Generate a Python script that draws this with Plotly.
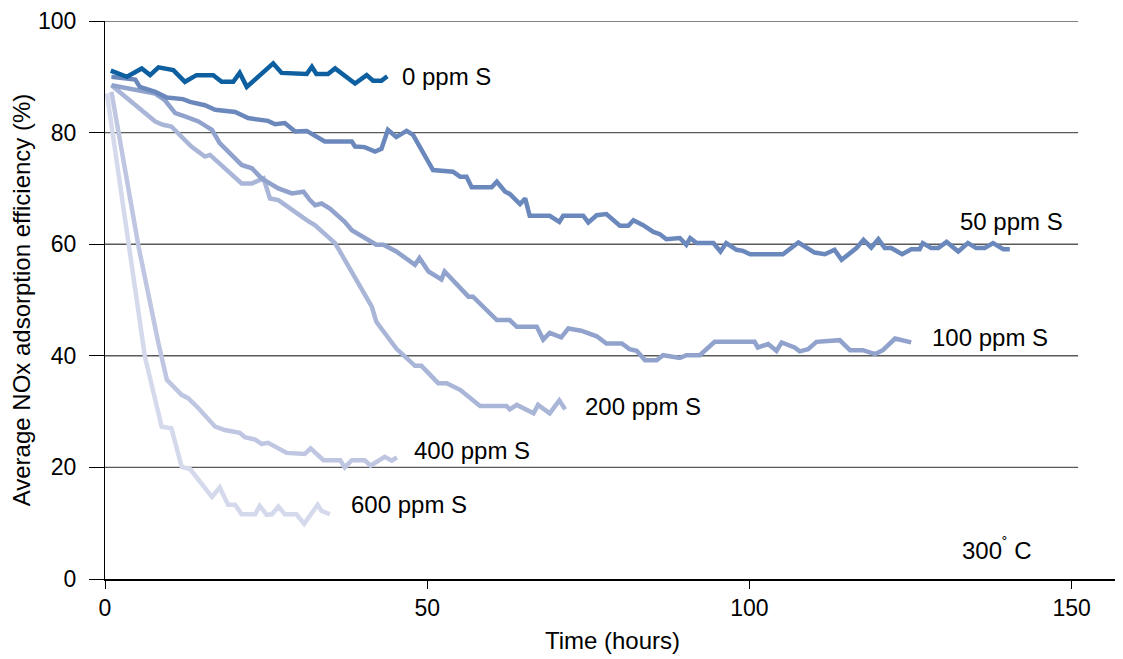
import plotly.graph_objects as go

# ---- data (hours, %) ----
t_0 = [0.9, 3.4, 5.7, 7.0, 8.3, 10.6, 12.4, 14.2, 16.8, 18.1, 19.9, 20.9, 22.0, 26.1, 27.4, 31.3, 32.1, 32.8, 34.6, 35.7, 38.8, 40.6, 41.6, 42.9, 43.8]
e_0 = [91.1, 90.0, 91.5, 90.3, 91.7, 91.2, 89.1, 90.3, 90.3, 89.1, 89.1, 90.7, 88.2, 92.4, 90.7, 90.5, 91.8, 90.5, 90.5, 91.5, 88.8, 90.3, 89.3, 89.3, 90.1]

t_50 = [1.0, 4.7, 5.4, 7.8, 9.6, 12.1, 13.2, 15.5, 17.1, 20.2, 22.2, 25.3, 26.4, 27.9, 29.5, 31.3, 34.1, 38.3, 38.8, 40.3, 41.9, 42.9, 43.9, 45.2, 46.8, 47.8,
        50.9, 54.0, 55.1, 56.1, 56.9, 60.0, 60.8, 62.1, 62.8, 64.4, 65.2, 65.9, 69.0, 70.5, 71.1, 74.2, 75.0, 76.3, 77.8, 79.9, 81.2, 82.0, 83.5, 85.1,
        86.1, 87.1, 89.2, 90.2, 90.8, 91.8, 94.4, 95.5, 96.4, 98.0, 99.0, 100.1, 105.2, 107.6, 110.1, 111.7, 113.2, 114.3, 116.6, 117.7, 118.9, 120.0,
        121.0, 122.0, 123.7, 125.1, 126.4, 126.9, 128.2, 129.3, 130.6, 132.4, 133.9, 135.2, 136.5, 137.8, 139.4, 140.4]
e_50 = [90.0, 89.5, 88.2, 87.3, 86.3, 86.0, 85.5, 84.9, 84.1, 83.7, 82.6, 82.1, 81.5, 81.7, 80.2, 80.3, 78.4, 78.4, 77.5, 77.4, 76.6, 77.1, 80.5, 79.2, 80.3, 79.6,
        73.3, 73.0, 72.1, 72.1, 70.2, 70.2, 71.2, 69.4, 69.0, 67.2, 68.2, 65.1, 65.1, 64.0, 65.1, 65.1, 63.9, 65.2, 65.4, 63.3, 63.3, 64.3, 63.4, 62.2,
        61.8, 60.9, 61.1, 59.9, 61.1, 60.2, 60.2, 58.7, 60.2, 59.0, 58.8, 58.2, 58.2, 60.3, 58.5, 58.2, 59.0, 57.2, 59.3, 60.8, 59.4, 60.9,
        59.3, 59.3, 58.2, 59.1, 59.1, 60.2, 59.3, 59.3, 60.4, 58.7, 60.2, 59.3, 59.3, 60.2, 59.1, 59.1]

t_100 = [1.0, 7.8, 9.3, 10.9, 12.4, 14.5, 16.6, 17.8, 21.2, 22.8, 24.3, 26.9, 29.0, 30.8, 31.8, 32.6, 33.6, 34.9, 37.2, 38.3, 42.1, 43.2, 45.2, 48.1,
         48.8, 50.2, 52.2, 52.7, 56.4, 57.1, 60.8, 62.8, 63.9, 67.0, 68.0, 69.0, 70.8, 71.9, 73.9, 76.3, 77.8, 80.2, 81.4, 82.5, 83.8, 85.6, 86.6,
         89.2, 90.2, 92.3, 94.6, 100.8, 101.3, 102.9, 104.2, 105.0, 107.0, 107.8, 109.1, 110.4, 114.0, 115.6, 117.6, 119.5, 120.7, 122.6, 125.1]
e_100 = [88.5, 87.0, 85.8, 83.5, 82.9, 82.0, 80.5, 78.1, 74.2, 73.6, 71.8, 70.0, 69.1, 69.4, 67.9, 67.0, 67.3, 66.4, 64.0, 62.5, 59.9, 59.9, 58.7, 56.3,
         57.5, 55.1, 53.7, 55.1, 50.6, 50.6, 46.4, 46.4, 45.2, 45.2, 42.9, 44.1, 43.3, 44.9, 44.5, 43.5, 42.2, 42.2, 41.2, 40.9, 39.2, 39.2, 40.1,
         39.6, 40.1, 40.1, 42.5, 42.5, 41.5, 42.1, 40.9, 42.4, 41.5, 40.8, 41.2, 42.5, 42.8, 41.0, 41.0, 40.3, 41.0, 43.1, 42.4]

t_200 = [1.0, 7.8, 9.0, 10.3, 13.4, 15.5, 16.3, 21.2, 22.8, 24.6, 25.6, 26.9, 31.3, 32.6, 35.7, 37.2, 41.4, 42.1, 45.2, 48.1, 49.1, 51.7, 53.0,
         55.1, 58.2, 62.3, 62.8, 63.9, 66.5, 67.2, 69.0, 70.5, 71.4]
e_200 = [88.5, 82.0, 81.4, 81.1, 77.5, 75.7, 76.0, 70.9, 70.9, 71.8, 68.2, 67.9, 64.3, 63.4, 60.2, 57.2, 48.8, 46.1, 41.3, 38.2, 38.2, 35.1, 35.1,
         33.9, 31.0, 31.0, 30.4, 31.2, 29.7, 31.2, 29.7, 32.0, 30.4]

t_400 = [1.0, 5.2, 8.3, 9.6, 11.9, 12.9, 14.5, 17.1, 18.6, 20.9, 21.7, 23.3, 24.3, 25.3, 28.2, 31.0, 31.9, 33.9, 36.5, 37.2, 38.3, 40.3, 41.2,
         43.4, 44.5, 45.3]
e_400 = [87.3, 59.6, 42.2, 35.7, 33.0, 32.4, 30.6, 27.3, 26.7, 26.2, 25.4, 25.0, 24.2, 24.4, 22.6, 22.4, 23.4, 21.3, 21.3, 20.0, 21.3, 21.3, 20.3,
         21.9, 21.2, 21.8]

t_600 = [0.3, 3.6, 6.2, 8.8, 10.3, 11.9, 13.2, 16.6, 17.8, 19.1, 20.2, 21.2, 23.3, 24.0, 25.1, 25.9, 26.9, 27.9, 29.7, 30.9, 33.0, 33.6, 34.9]
e_600 = [87.0, 60.2, 39.8, 27.3, 27.0, 20.1, 19.7, 14.7, 16.4, 13.3, 13.3, 11.6, 11.6, 13.1, 11.5, 11.6, 13.0, 11.6, 11.6, 9.9, 13.3, 12.2, 11.6]

series_names = ["0 ppm S", "50 ppm S", "100 ppm S", "200 ppm S", "400 ppm S", "600 ppm S"]
series_t = [t_0, t_50, t_100, t_200, t_400, t_600]
series_e = [e_0, e_50, e_100, e_200, e_400, e_600]
colors = ["#0d5fa0", "#6b88bd", "#91a3cd", "#aab6d8", "#bec6e1", "#d4d9ec"]

# label anchor positions (data coords) for the inline series labels
label_pos = [(45.8, 90.1), (132.3, 64.0), (128.0, 43.2), (74.2, 31.0), (47.6, 23.1), (37.9, 13.3)]
temp_label = "300<sup>˚</sup> C"
temp_pos = (132.6, 5.4)

x_ticks = [0, 50, 100, 150]
y_ticks = [0, 20, 40, 60, 80, 100]

FONT = "Arial, Liberation Sans, Helvetica, sans-serif"

fig = go.Figure()
# draw lighter series first so darker ones sit on top
for name, t, e, c in reversed(list(zip(series_names, series_t, series_e, colors))):
    fig.add_trace(go.Scatter(x=t, y=e, mode="lines", name=name,
                             line=dict(color=c, width=4.5), showlegend=False))

for name, (lx, ly) in zip(series_names, label_pos):
    fig.add_annotation(x=lx, y=ly, text=name, showarrow=False, xanchor="left",
                       yanchor="middle", font=dict(size=24, color="black", family=FONT))

fig.add_annotation(x=temp_pos[0], y=temp_pos[1], text=temp_label, showarrow=False, xanchor="left",
                   yanchor="middle", font=dict(size=24, color="black", family=FONT))

# horizontal grid lines (stop at x=151, like the original)
for yv in y_ticks[1:]:
    fig.add_shape(type="line", xref="x", yref="y", x0=0, x1=151, y0=yv, y1=yv,
                  line=dict(color="#5a5a5a", width=1.4), layer="below")

# the page body has an 8px default margin, so the figure is shifted by 8px
fig.update_layout(
    width=1115, height=651,
    margin=dict(l=97, r=3, t=13, b=80),
    plot_bgcolor="white", paper_bgcolor="white",
    font=dict(family=FONT, size=23, color="black"),
    xaxis=dict(range=[0, 157.5], tickvals=x_ticks, ticks="outside", ticklen=8, tickwidth=1,
               tickcolor="black", showline=True, linecolor="black", linewidth=1.5,
               showgrid=False, zeroline=False, fixedrange=True, automargin=False,
               title=dict(text="Time (hours)", font=dict(size=24), standoff=12),
               tickfont=dict(size=23)),
    yaxis=dict(range=[0, 100], tickvals=y_ticks, ticks="outside", ticklen=15, tickwidth=1,
               tickcolor="black", showline=True, linecolor="black", linewidth=1,
               showgrid=False, zeroline=False, fixedrange=True, automargin=False,
               ticklabelstandoff=8,
               title=dict(text="Average NOx adsorption efficiency (%)", font=dict(size=24), standoff=10),
               tickfont=dict(size=23)),
)

fig.write_html("out.html")
